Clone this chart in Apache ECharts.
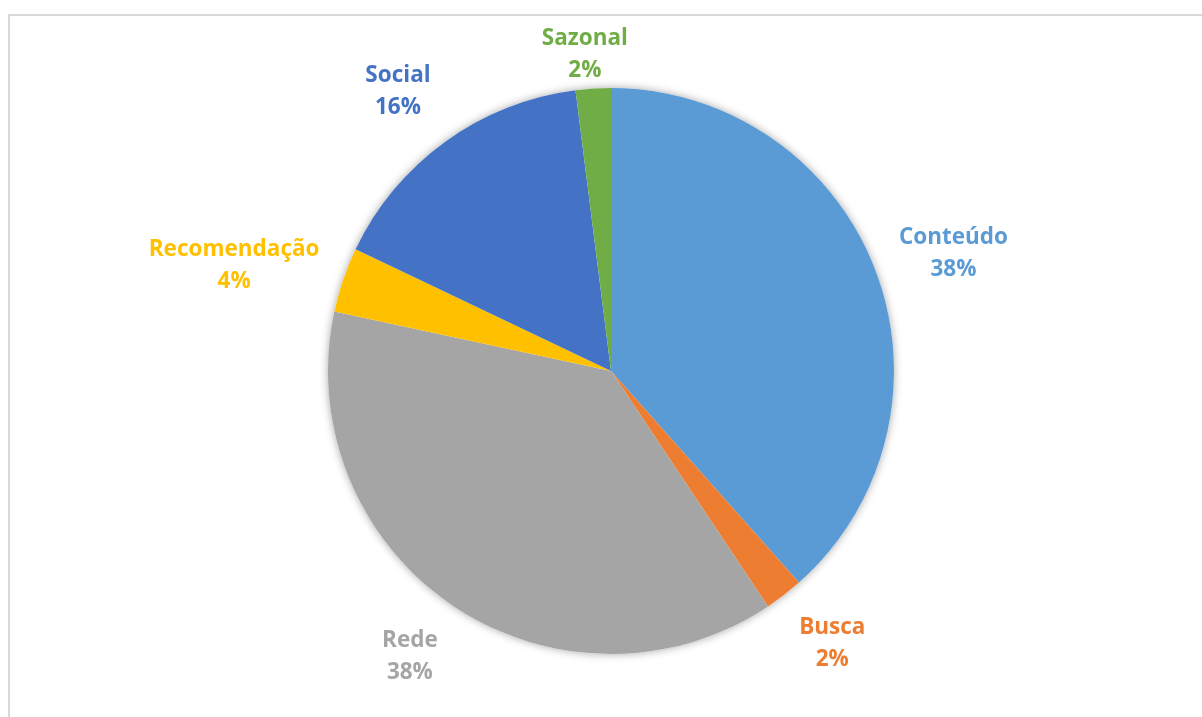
<!DOCTYPE html>
<html>
<head>
<meta charset="utf-8">
<script src="https://cdn.jsdelivr.net/npm/echarts@6/dist/echarts.min.js"></script>
<style>
  html, body { margin: 0; padding: 0; background: #fff; }
  #frame { position: absolute; left: 8px; top: 14px; width: 1210px; height: 720px;
           border: 2px solid #d9d9d9; box-sizing: border-box; }
  #chart { position: absolute; left: 0; top: 0; width: 1202px; height: 717px; }
</style>
</head>
<body>
<div id="frame"></div>
<div id="chart"></div>
<script>
// Traffic sources (share, %)
const categories = ['Conteúdo', 'Busca', 'Rede', 'Recomendação', 'Social', 'Sazonal'];
const shares = [38.4, 2.2, 37.7, 3.7, 15.9, 2.0];
const colors = ['#5B9BD5', '#ED7D31', '#A5A5A5', '#FFC000', '#4472C4', '#70AD47'];

const PIE_CX = 611, PIE_CY = 371, PIE_R = 283, LABEL_GAP = 25, LABEL_TOP = 23;

const total = shares.reduce((a, b) => a + b, 0);
// mid-angle of each slice, measured clockwise from 12 o'clock
const midAngles = [];
let acc = 0;
shares.forEach(v => { midAngles.push((acc + v / 2) / total * 2 * Math.PI); acc += v; });

// how far the label box is pushed past its anchor, horizontally and vertically
const clamp01 = v => Math.min(1, Math.max(0, v));
const pushX = s => Math.sign(s) * clamp01(Math.abs(s) / 0.4);
const pushY = c => Math.sign(c) * clamp01((Math.abs(c) - 0.2) / 0.65);

const chart = echarts.init(document.getElementById('chart'), null, { renderer: 'canvas' });
chart.setOption({
  animation: false,
  series: [
    {
      // soft drop shadow under the pie
      type: 'pie', silent: true, z: 1,
      center: [PIE_CX, PIE_CY], radius: PIE_R,
      label: { show: false }, labelLine: { show: false },
      itemStyle: { color: '#ffffff', shadowBlur: 8, shadowColor: 'rgba(0,0,0,0.35)' },
      data: [1]
    },
    {
      type: 'pie', z: 2,
      center: [PIE_CX, PIE_CY], radius: PIE_R,
      startAngle: 90, clockwise: true,
      percentPrecision: 0,
      itemStyle: { borderWidth: 0 },
      label: {
        show: true, position: 'outside',
        formatter: '{b}\n{d}%',
        fontFamily: '"Open Sans", sans-serif', fontWeight: 'bold', fontSize: 22.5,
        lineHeight: 32, align: 'center'
      },
      labelLine: { show: false },
      labelLayout: function (p) {
        const a = midAngles[p.dataIndex];
        const s = Math.sin(a), c = Math.cos(a);
        const hw = p.labelRect.width / 2, hh = p.labelRect.height / 2;
        const d = PIE_R + LABEL_GAP;
        const x = PIE_CX + d * s + hw * pushX(s);
        let y = PIE_CY - d * c - hh * pushY(c);
        y = Math.max(y, LABEL_TOP + hh);
        return { x: x, y: y, align: 'center', verticalAlign: 'middle' };
      },
      data: categories.map((n, i) => ({
        name: n, value: shares[i],
        itemStyle: { color: colors[i] },
        label: { color: colors[i] }
      }))
    }
  ]
});
</script>
</body>
</html>
